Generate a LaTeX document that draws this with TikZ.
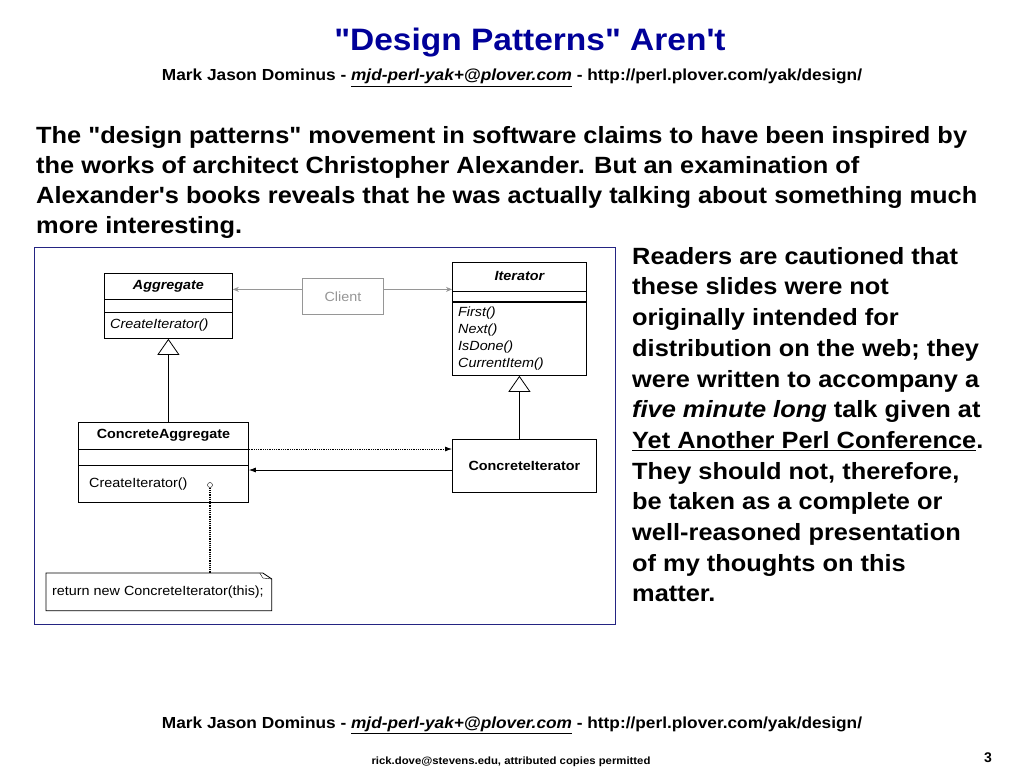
\documentclass[tikz,border=0pt]{standalone}
\usepackage{fontspec}
\setmainfont{Liberation Sans}[Ligatures=TeXOff]
\newfontfamily\widesans{Liberation Sans}[Ligatures=TeXOff, FakeStretch=1.08]
\usetikzlibrary{arrows.meta}
\definecolor{TitleBlue}{RGB}{0,0,153}
\definecolor{FrameBlue}{RGB}{36,36,130}
\definecolor{ClientGray}{RGB}{150,150,150}

\begin{document}
\begin{tikzpicture}[x=1pt,y=-1pt]
    \useasboundingbox[fill=white] (0,0) rectangle (1024,768);
    \tikzset{TextStyle/.style = {%
        anchor=north west, inner sep=0pt, align=left,
        font=\widesans\fontsize{23.5}{30}\selectfont\bfseries},
      LineStyle/.style = {anchor=base, inner sep=0pt,
        font=\widesans\fontsize{16}{19}\selectfont\bfseries},
      ClassStyle/.style = {draw, line width=0.8pt, inner sep=0pt,
        anchor=north west},
      UmlText/.style = {inner sep=0pt, font=\widesans\fontsize{13.3}{17}\selectfont},
      UmlTitle/.style = {inner sep=0pt,
        font=\widesans\fontsize{13.3}{17}\selectfont\bfseries},
      ClientArrow/.style = {draw=ClientGray, line width=0.8pt,
        -{Stealth[length=6pt,width=5pt]}},
      UseArrow/.style = {line width=0.8pt, -{Latex[length=7pt,width=5pt]}},
      InheritStyle/.style = {line width=0.8pt,
        {Triangle[open,length=16pt,width=22pt,fill=white]}-}}
    % header
    \node[LineStyle, font=\widesans\fontsize{31}{36}\selectfont\bfseries,
        text=TitleBlue] (title) at (530,51) {"Design Patterns" Aren't};
    \node[LineStyle] (byline) at (512,81)
        {Mark Jason Dominus - \underline{\itshape mjd-perl-yak+@plover.com}
         - http://perl.plover.com/yak/design/};
    \node[TextStyle] (intro) at (36,126)
        {The "design patterns" movement in software claims to have been inspired by\\
         the works of architect Christopher Alexander. But an examination of\\
         Alexander's books reveals that he was actually talking about something much\\
         more interesting.};
    \node[TextStyle, font=\widesans\fontsize{23.5}{30.7}\selectfont\bfseries]
        (caution) at (632,247)
        {Readers are cautioned that\\
         these slides were not\\
         originally intended for\\
         distribution on the web; they\\
         were written to accompany a\\
         \textit{five minute long} talk given at\\
         \underline{Yet Another Perl Conference}.\\
         They should not, therefore,\\
         be taken as a complete or\\
         well-reasoned presentation\\
         of my thoughts on this\\
         matter.};
    % class diagram
    \draw[FrameBlue, line width=1pt] (34,247) rectangle (615,624);
    \node[ClassStyle, minimum width=128, minimum height=65] (agg) at (104,273) {};
    \node[ClassStyle, minimum width=134, minimum height=113] (iter) at (452,262) {};
    \node[ClassStyle, minimum width=170, minimum height=80] (cagg) at (78,422) {};
    \node[ClassStyle, minimum width=144, minimum height=53] (citer) at (452,439) {};
    \node[ClassStyle, draw=ClientGray, minimum width=81, minimum height=36]
        (client) at (302,278) {};
    \node[ClassStyle, draw=none, minimum width=225, minimum height=37]
        (note) at (46,573) {};
    \draw ([yshift=-26pt]agg.north west) -- ([yshift=-26pt]agg.north east);
    \draw ([yshift=-39pt]agg.north west) -- ([yshift=-39pt]agg.north east);
    \draw ([yshift=-29pt]iter.north west) -- ([yshift=-29pt]iter.north east);
    \draw[line width=1.2pt] ([yshift=-40pt]iter.north west) -- ([yshift=-40pt]iter.north east);
    \draw ([yshift=-27pt]cagg.north west) -- ([yshift=-27pt]cagg.north east);
    \draw ([yshift=-43pt]cagg.north west) -- ([yshift=-43pt]cagg.north east);
    \draw[line width=0.8pt] (note.north west) -- ([xshift=-9pt]note.north east)
        -- ([yshift=-6pt]note.north east) -- (note.south east)
        -- (note.south west) -- cycle;
    \draw ([xshift=-12pt]note.north east) -- ([xshift=-9pt,yshift=-5pt]note.north east)
        -- ([yshift=-6pt]note.north east);
    \node[UmlTitle, font=\widesans\fontsize{13.3}{17}\selectfont\bfseries\itshape]
        (aggname) at ([yshift=-13pt]agg.north) {Aggregate};
    \node[UmlText, font=\widesans\fontsize{13.3}{17}\selectfont\itshape, anchor=west]
        (aggop) at ([xshift=6pt,yshift=-52pt]agg.north west) {CreateIterator()};
    \node[UmlTitle, font=\widesans\fontsize{13.3}{17}\selectfont\bfseries\itshape]
        (itername) at ([yshift=-14pt]iter.north) {Iterator};
    \node[UmlText, font=\widesans\fontsize{13.3}{17}\selectfont\itshape,
        anchor=north west, align=left] (iterops)
        at ([xshift=6pt,yshift=-45pt]iter.north west)
        {First()\\Next()\\IsDone()\\CurrentItem()};
    \node[UmlTitle] (caggname) at ([yshift=-13pt]cagg.north) {ConcreteAggregate};
    \node[UmlText, anchor=west] (caggop)
        at ([xshift=11pt,yshift=-62pt]cagg.north west) {CreateIterator()};
    \node[UmlTitle] (citername) at (citer.center) {ConcreteIterator};
    \node[UmlText, text=ClientGray] (clientname) at (client.center) {Client};
    \node[UmlText, anchor=west] (notetext) at ([xshift=6pt]note.west)
        {return new ConcreteIterator(this);};
    \node[circle, draw, inner sep=0pt, minimum size=5pt, fill=white]
        (dot) at (210,485) {};
    % connectors
    \coordinate (cl) at ([yshift=7pt]client.west);
    \coordinate (cr) at ([yshift=7pt]client.east);
    \draw[ClientArrow] (cl) -- (cl -| agg.east);
    \draw[ClientArrow] (cr) -- (cr -| iter.west);
    \draw[InheritStyle] (agg.south) -- (agg.south |- cagg.north);
    \draw[InheritStyle] (iter.south) -- (iter.south |- citer.north);
    \coordinate (da) at ([yshift=-27pt]cagg.north east);
    \coordinate (sa) at ([yshift=-48pt]cagg.north east);
    \draw[UseArrow, densely dotted] (da) -- (da -| citer.west);
    \draw[UseArrow] (sa -| citer.west) -- (sa);
    \draw[densely dotted, line width=1.2pt] (dot) -- (dot |- note.north);
    % footer
    \node[LineStyle] (footer) at (512,728)
        {Mark Jason Dominus - \underline{\itshape mjd-perl-yak+@plover.com}
         - http://perl.plover.com/yak/design/};
    \node[LineStyle, font=\widesans\fontsize{10.5}{12}\selectfont\bfseries]
        (credit) at (511,764) {rick.dove@stevens.edu, attributed copies permitted};
    \node[LineStyle, font=\fontsize{14}{16}\selectfont\bfseries]
        (pageno) at (988,762) {3};
\end{tikzpicture}
\end{document}
